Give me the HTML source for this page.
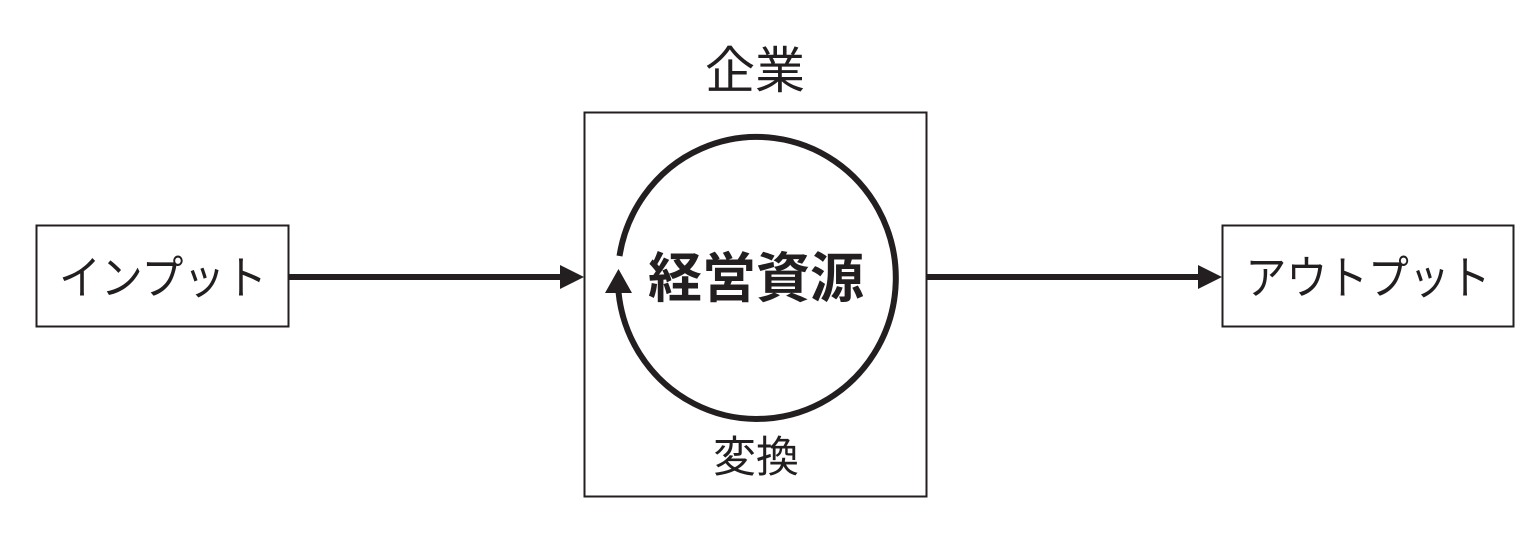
<!DOCTYPE html>
<html><head><meta charset="utf-8"><style>
html,body{margin:0;padding:0;background:#fff;}
body{width:1539px;height:549px;overflow:hidden;}
</style></head><body>
<svg width="1539" height="549" viewBox="0 0 1539 549" xmlns="http://www.w3.org/2000/svg" font-family="'Liberation Sans','Noto Sans CJK JP',sans-serif" fill="#231f20">
<rect x="36.5" y="225.5" width="252" height="101" fill="none" stroke="#231f20" stroke-width="2"/>
<rect x="1222.5" y="225.5" width="291" height="101" fill="none" stroke="#231f20" stroke-width="2"/>
<rect x="584.5" y="112.5" width="342" height="384" fill="none" stroke="#231f20" stroke-width="2"/>
<text x="163" y="294" font-size="46" text-anchor="middle" textLength="208" lengthAdjust="spacingAndGlyphs">インプット</text>
<text x="1368" y="294" font-size="46" text-anchor="middle" textLength="245" lengthAdjust="spacingAndGlyphs">アウトプット</text>
<text x="755" y="88" font-size="50" text-anchor="middle">企業</text>
<text x="756" y="297" font-size="54" font-weight="bold" text-anchor="middle">経営資源</text>
<text x="756" y="472" font-size="43" text-anchor="middle">変換</text>
<line x1="289" y1="277" x2="562" y2="277" stroke="#231f20" stroke-width="6"/>
<polygon points="560,265 584,277 560,289"/>
<line x1="927" y1="277" x2="1200" y2="277" stroke="#231f20" stroke-width="6"/>
<polygon points="1198,265 1222,277 1198,289"/>
<path d="M 619.5 256 A 139 141 0 1 1 618.5 292" fill="none" stroke="#231f20" stroke-width="6"/>
<polygon points="605,293 632,293 618.5,269"/>
</svg>
</body></html>
